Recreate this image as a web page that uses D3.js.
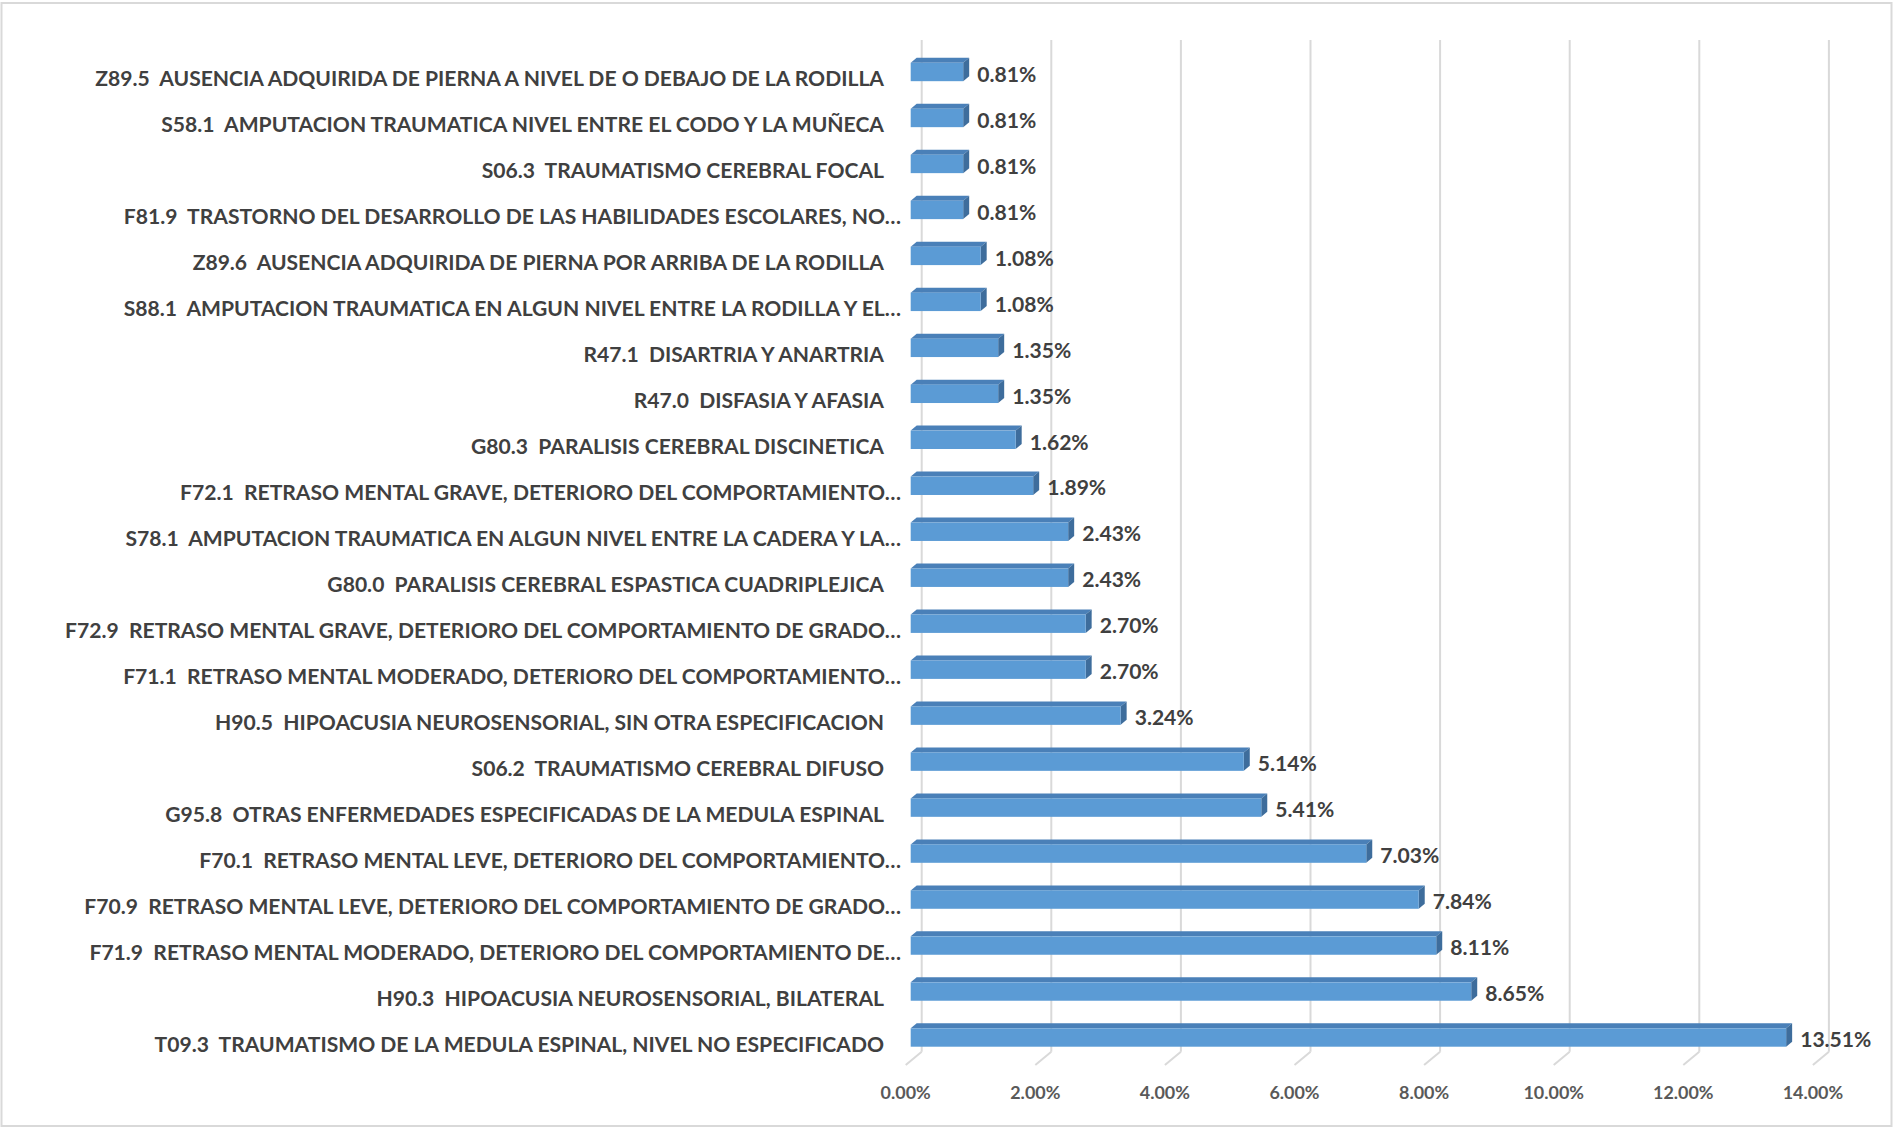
<!DOCTYPE html>
<html>
<head>
<meta charset="utf-8">
<script src="https://cdn.jsdelivr.net/npm/d3@7"></script>
<style>
  body { margin: 0; background: #fff; }
  text { white-space: pre; font-family: Lato, "Open Sans", sans-serif; font-weight: 700; }
</style>
</head>
<body>
<div id="chart"></div>
<script>
// categories, top to bottom as shown
var categories = [
  "Z89.5  AUSENCIA ADQUIRIDA DE PIERNA A NIVEL DE O DEBAJO DE LA RODILLA",
  "S58.1  AMPUTACION TRAUMATICA NIVEL ENTRE EL CODO Y LA MUÑECA",
  "S06.3  TRAUMATISMO CEREBRAL FOCAL",
  "F81.9  TRASTORNO DEL DESARROLLO DE LAS HABILIDADES ESCOLARES, NO…",
  "Z89.6  AUSENCIA ADQUIRIDA DE PIERNA POR ARRIBA DE LA RODILLA",
  "S88.1  AMPUTACION TRAUMATICA EN ALGUN NIVEL ENTRE LA RODILLA Y EL…",
  "R47.1  DISARTRIA Y ANARTRIA",
  "R47.0  DISFASIA Y AFASIA",
  "G80.3  PARALISIS CEREBRAL DISCINETICA",
  "F72.1  RETRASO MENTAL GRAVE, DETERIORO DEL COMPORTAMIENTO…",
  "S78.1  AMPUTACION TRAUMATICA EN ALGUN NIVEL ENTRE LA CADERA Y LA…",
  "G80.0  PARALISIS CEREBRAL ESPASTICA CUADRIPLEJICA",
  "F72.9  RETRASO MENTAL GRAVE, DETERIORO DEL COMPORTAMIENTO DE GRADO…",
  "F71.1  RETRASO MENTAL MODERADO, DETERIORO DEL COMPORTAMIENTO…",
  "H90.5  HIPOACUSIA NEUROSENSORIAL, SIN OTRA ESPECIFICACION",
  "S06.2  TRAUMATISMO CEREBRAL DIFUSO",
  "G95.8  OTRAS ENFERMEDADES ESPECIFICADAS DE LA MEDULA ESPINAL",
  "F70.1  RETRASO MENTAL LEVE, DETERIORO DEL COMPORTAMIENTO…",
  "F70.9  RETRASO MENTAL LEVE, DETERIORO DEL COMPORTAMIENTO DE GRADO…",
  "F71.9  RETRASO MENTAL MODERADO, DETERIORO DEL COMPORTAMIENTO DE…",
  "H90.3  HIPOACUSIA NEUROSENSORIAL, BILATERAL",
  "T09.3  TRAUMATISMO DE LA MEDULA ESPINAL, NIVEL NO ESPECIFICADO"
];
var values = [0.0081, 0.0081, 0.0081, 0.0081, 0.0108, 0.0108, 0.0135, 0.0135, 0.0162, 0.0189, 0.0243,
              0.0243, 0.0270, 0.0270, 0.0324, 0.0514, 0.0541, 0.0703, 0.0784, 0.0811, 0.0865, 0.1351];
var ticks = [0, 0.02, 0.04, 0.06, 0.08, 0.10, 0.12, 0.14];

var W = 1896, H = 1128;
var depthX = 6, depthY = -5;      // bar top/side depth
var backDX = 11;                  // back wall offset for gridlines
var floorY = 1051.7, floorDX = -16, floorDY = 13.3;

var svg = d3.select("#chart").append("svg")
  .attr("width", W)
  .attr("height", H);

svg.append("rect")
  .attr("x", 1.5).attr("y", 3)
  .attr("width", 1890).attr("height", 1123)
  .attr("fill", "#fff")
  .attr("stroke", "#d9d9d9")
  .attr("stroke-width", 2);

var x = d3.scaleLinear().domain([0, 0.14]).range([910.7, 910.7 + 7 * 129.6]);
var y = d3.scaleBand().domain(categories).range([49, 1060.5])
  .paddingInner(0.6).paddingOuter(0.3);
var mid = d => y(d) + y.bandwidth() / 2;

var fmt = d3.format(".2%");

// gridlines on back wall + floor diagonals
var grid = svg.append("g");
grid.selectAll("line.g")
  .data(ticks)
  .enter()
  .append("line")
  .attr("x1", d => x(d) + backDX).attr("x2", d => x(d) + backDX)
  .attr("y1", 40).attr("y2", floorY)
  .attr("stroke", "#d9d9d9").attr("stroke-width", 2);
grid.selectAll("line.f")
  .data(ticks)
  .enter()
  .append("line")
  .attr("x1", d => x(d) + backDX).attr("x2", d => x(d) + backDX + floorDX)
  .attr("y1", floorY).attr("y2", floorY + floorDY)
  .attr("stroke", "#d9d9d9").attr("stroke-width", 2);

// measure label font to get a Calibri-like horizontal squeeze
var probe = svg.append("text").attr("font-size", 20).text(categories[0]);
var sx = 789 / probe.node().getComputedTextLength();
probe.remove();

// bars
var bars = svg.append("g").selectAll("g")
  .data(values)
  .enter()
  .append("g");

bars.append("path")   // top face
  .attr("d", (d, i) => {
    var x0 = x(0), x1 = x(d), t = y(categories[i]);
    return "M" + x0 + "," + t + "L" + (x0 + depthX) + "," + (t + depthY) +
           "L" + (x1 + depthX) + "," + (t + depthY) + "L" + x1 + "," + t + "Z";
  })
  .attr("fill", "#4a80b8");

bars.append("path")   // side face
  .attr("d", (d, i) => {
    var x1 = x(d), t = y(categories[i]), b = t + y.bandwidth();
    return "M" + x1 + "," + t + "L" + (x1 + depthX) + "," + (t + depthY) +
           "L" + (x1 + depthX) + "," + (b + depthY) + "L" + x1 + "," + b + "Z";
  })
  .attr("fill", "#3e6d9c");

bars.append("rect")   // front face
  .attr("x", x(0))
  .attr("y", (d, i) => y(categories[i]))
  .attr("width", d => x(d) - x(0))
  .attr("height", y.bandwidth())
  .attr("fill", "#5b9bd5");

// value labels
bars.append("text")
  .attr("transform", (d, i) => "translate(" + (x(d) + depthX + 8) + "," +
        (mid(categories[i]) + 9.7) + ") scale(" + sx + ",1)")
  .attr("font-size", 20)
  .attr("fill", "#404040")
  .text(d => fmt(d));

// category labels
svg.append("g").selectAll("text")
  .data(categories)
  .enter()
  .append("text")
  .attr("transform", d => "translate(" + (d.endsWith("…") ? 901 : 884) + "," +
        (mid(d) + 14) + ") scale(" + sx + ",1)")
  .attr("text-anchor", "end")
  .attr("font-size", 20)
  .attr("fill", "#404040")
  .text(d => d);

// tick labels
svg.append("g").selectAll("text")
  .data(ticks)
  .enter()
  .append("text")
  .attr("transform", d => "translate(" + (x(d) + backDX + floorDX) + ",1098.5) scale(" + sx + ",1)")
  .attr("text-anchor", "middle")
  .attr("font-size", 17)
  .attr("fill", "#595959")
  .text(d => fmt(d));
</script>
</body>
</html>
